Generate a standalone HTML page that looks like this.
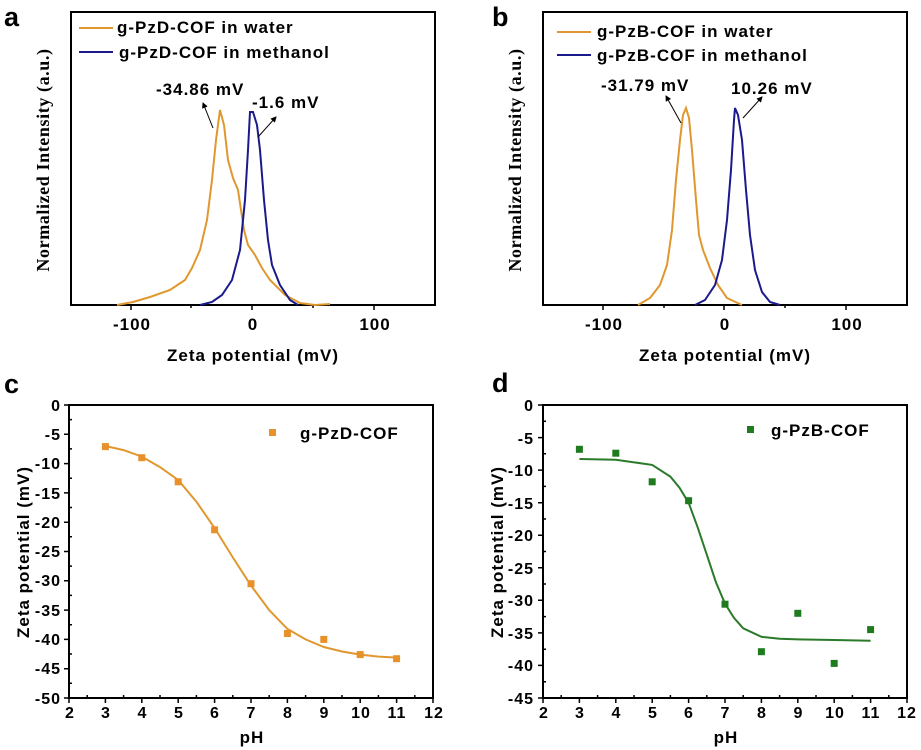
<!DOCTYPE html>
<html><head><meta charset="utf-8"><style>
html,body{margin:0;padding:0;background:#fff;}
svg{display:block;font-family:"Liberation Sans",Arial,sans-serif;font-weight:bold;}
.t{font-size:17px;letter-spacing:1px;}
.k{font-size:16px;letter-spacing:1px;}
.s{font-family:"Liberation Serif",serif;font-size:18px;font-weight:bold;letter-spacing:0.6px;}
</style></head><body>
<svg width="921" height="750" viewBox="0 0 921 750">
<defs><marker id="ar" markerWidth="6" markerHeight="6" refX="5" refY="3" orient="auto"><path d="M0,0 L6,3 L0,6 z" fill="#000"/></marker></defs>
<text x="4" y="26" font-size="27">a</text>
<text x="492" y="26" font-size="27">b</text>
<text x="4" y="393" font-size="27">c</text>
<text x="492" y="392" font-size="27">d</text>

<!-- Panel a -->
<rect x="71" y="12" width="364" height="293" fill="none" stroke="#000" stroke-width="2"/>
<g stroke="#000" stroke-width="1.5">
<line x1="131" y1="305" x2="131" y2="310"/><line x1="252" y1="305" x2="252" y2="310"/><line x1="374" y1="305" x2="374" y2="310"/>
<line x1="191" y1="305" x2="191" y2="308"/><line x1="313" y1="305" x2="313" y2="308"/>
</g>
<g class="t" text-anchor="middle"><text x="132" y="330">-100</text><text x="253" y="330">0</text><text x="375" y="330">100</text></g>
<text class="t" x="253" y="361" text-anchor="middle">Zeta potential (mV)</text>
<text class="s" transform="translate(49,160) rotate(-90)" text-anchor="middle">Normalized Intensity (a.u.)</text>
<line x1="79" y1="28" x2="113" y2="28" stroke="#E0982E" stroke-width="2"/>
<text class="t" x="117" y="33">g-PzD-COF in water</text>
<line x1="79" y1="52" x2="113" y2="52" stroke="#1A1A8C" stroke-width="2"/>
<text class="t" x="119" y="58">g-PzD-COF in methanol</text>
<polyline fill="none" stroke="#E0982E" stroke-width="2" points="117,305 133,302 150,297 170,290 185,280 192,268 200,250 207,220 212,180 216,140 220,110 224,125 228,160 233,178 238,190 241,210 244,230 248,245 255,255 262,268 270,280 285,295 300,303 315,305 330,304"/>
<polyline fill="none" stroke="#1A1A8C" stroke-width="2" points="200,305 212,302 222,295 232,280 240,250 245,200 248,150 250,112 253,112 257,125 260,150 264,200 268,240 272,265 280,285 290,300 298,305"/>
<text class="t" x="156" y="95">-34.86 mV</text>
<line x1="213" y1="128" x2="203" y2="103" stroke="#000" stroke-width="1" marker-end="url(#ar)"/>
<text class="t" x="252" y="108">-1.6 mV</text>
<line x1="258" y1="137" x2="276" y2="117" stroke="#000" stroke-width="1" marker-end="url(#ar)"/>

<!-- Panel b -->
<rect x="543" y="12" width="364" height="293" fill="none" stroke="#000" stroke-width="2"/>
<g stroke="#000" stroke-width="1.5">
<line x1="603" y1="305" x2="603" y2="310"/><line x1="724" y1="305" x2="724" y2="310"/><line x1="846" y1="305" x2="846" y2="310"/>
<line x1="664" y1="305" x2="664" y2="308"/><line x1="785" y1="305" x2="785" y2="308"/>
</g>
<g class="t" text-anchor="middle"><text x="604" y="330">-100</text><text x="725" y="330">0</text><text x="847" y="330">100</text></g>
<text class="t" x="725" y="361" text-anchor="middle">Zeta potential (mV)</text>
<text class="s" transform="translate(521,160) rotate(-90)" text-anchor="middle">Normalized Intensity (a.u.)</text>
<line x1="557" y1="32" x2="591" y2="32" stroke="#E0982E" stroke-width="2"/>
<text class="t" x="597" y="37">g-PzB-COF in water</text>
<line x1="557" y1="55" x2="591" y2="55" stroke="#1A1A8C" stroke-width="2"/>
<text class="t" x="597" y="61">g-PzB-COF in methanol</text>
<polyline fill="none" stroke="#E0982E" stroke-width="2" points="638,305 650,298 660,285 667,265 672,230 676,180 680,140 683,115 686,108 689,118 692,150 696,200 699,235 703,250 710,268 718,285 727,298 742,305"/>
<polyline fill="none" stroke="#1A1A8C" stroke-width="2" points="695,305 705,300 715,285 722,260 727,220 731,170 734,120 735,108 738,115 742,140 746,190 750,235 755,270 762,292 770,302 780,305"/>
<text class="t" x="601" y="91">-31.79 mV</text>
<line x1="681" y1="123" x2="666" y2="96" stroke="#000" stroke-width="1" marker-end="url(#ar)"/>
<text class="t" x="731" y="94">10.26 mV</text>
<line x1="743" y1="118" x2="762" y2="97" stroke="#000" stroke-width="1" marker-end="url(#ar)"/>

<!-- Panel c -->
<rect x="69" y="405" width="364" height="293" fill="none" stroke="#000" stroke-width="2"/>
<g stroke="#000" stroke-width="1.5">
<path d="M69,405h-5M69,434.3h-5M69,463.6h-5M69,492.9h-5M69,522.2h-5M69,551.5h-5M69,580.8h-5M69,610.1h-5M69,639.4h-5M69,668.7h-5M69,698h-5"/>
<path d="M69,419.6h3M69,448.9h3M69,478.2h3M69,507.5h3M69,536.8h3M69,566.1h3M69,595.4h3M69,624.7h3M69,654h3M69,683.3h3"/>
<path d="M69,698v5M105.4,698v5M141.8,698v5M178.2,698v5M214.6,698v5M251,698v5M287.4,698v5M323.8,698v5M360.2,698v5M396.6,698v5M433,698v5"/>
<path d="M87.2,698v-3M123.6,698v-3M160,698v-3M196.4,698v-3M232.8,698v-3M269.2,698v-3M305.6,698v-3M342,698v-3M378.4,698v-3M414.8,698v-3"/>
</g>
<g class="k" text-anchor="end">
<text x="61" y="411">0</text><text x="61" y="440">-5</text><text x="61" y="469">-10</text><text x="61" y="499">-15</text><text x="61" y="528">-20</text><text x="61" y="557">-25</text><text x="61" y="586">-30</text><text x="61" y="616">-35</text><text x="61" y="645">-40</text><text x="61" y="674">-45</text><text x="61" y="704">-50</text>
</g>
<g class="k" text-anchor="middle">
<text x="70" y="718">2</text><text x="106" y="718">3</text><text x="142.5" y="718">4</text><text x="179" y="718">5</text><text x="215" y="718">6</text><text x="251.5" y="718">7</text><text x="288" y="718">8</text><text x="324.5" y="718">9</text><text x="361" y="718">10</text><text x="397" y="718">11</text><text x="434" y="718">12</text>
</g>
<text class="t" x="252" y="743" text-anchor="middle">pH</text>
<text class="t" transform="translate(29,552) rotate(-90)" text-anchor="middle">Zeta potential (mV)</text>
<rect x="269" y="429" width="7" height="7" fill="#E8902A"/>
<text class="t" x="300" y="439">g-PzD-COF</text>
<polyline fill="none" stroke="#E0982E" stroke-width="2" points="105.4,446 123.6,450.1 141.8,456.6 160,467.1 178.2,480 196.4,501.7 214.6,528 232.8,557.4 251,585.5 269.2,610.1 287.4,628.9 305.6,639.4 323.8,647 342,651.5 360.2,654.6 378.4,656.6 396.6,657.6"/>
<g fill="#E8902A">
<rect x="101.9" y="443.1" width="7" height="7"/><rect x="138.3" y="454.2" width="7" height="7"/><rect x="174.7" y="478.3" width="7" height="7"/><rect x="211.1" y="526.3" width="7" height="7"/><rect x="247.5" y="580.2" width="7" height="7"/><rect x="283.9" y="630" width="7" height="7"/><rect x="320.3" y="635.9" width="7" height="7"/><rect x="356.7" y="651.1" width="7" height="7"/><rect x="393.1" y="655.2" width="7" height="7"/>
</g>

<!-- Panel d -->
<rect x="543" y="405" width="364" height="293" fill="none" stroke="#000" stroke-width="2"/>
<g stroke="#000" stroke-width="1.5">
<path d="M543,405h-5M543,437.6h-5M543,470.1h-5M543,502.7h-5M543,535.2h-5M543,567.8h-5M543,600.3h-5M543,632.9h-5M543,665.4h-5M543,698h-5"/>
<path d="M543,421.3h3M543,453.8h3M543,486.4h3M543,519h3M543,551.5h3M543,584h3M543,616.6h3M543,649.2h3M543,681.7h3"/>
<path d="M543,698v5M579.4,698v5M615.8,698v5M652.2,698v5M688.6,698v5M725,698v5M761.4,698v5M797.8,698v5M834.2,698v5M870.6,698v5M907,698v5"/>
<path d="M561.2,698v-3M597.6,698v-3M634,698v-3M670.4,698v-3M706.8,698v-3M743.2,698v-3M779.6,698v-3M816,698v-3M852.4,698v-3M888.8,698v-3"/>
</g>
<g class="k" text-anchor="end">
<text x="534" y="411">0</text><text x="534" y="444">-5</text><text x="534" y="476">-10</text><text x="534" y="509">-15</text><text x="534" y="541">-20</text><text x="534" y="574">-25</text><text x="534" y="606">-30</text><text x="534" y="639">-35</text><text x="534" y="671">-40</text><text x="534" y="704">-45</text>
</g>
<g class="k" text-anchor="middle">
<text x="544" y="718">2</text><text x="580" y="718">3</text><text x="616.5" y="718">4</text><text x="653" y="718">5</text><text x="689" y="718">6</text><text x="725.5" y="718">7</text><text x="762" y="718">8</text><text x="798.5" y="718">9</text><text x="835" y="718">10</text><text x="871" y="718">11</text><text x="907" y="718">12</text>
</g>
<text class="t" x="726" y="743" text-anchor="middle">pH</text>
<text class="t" transform="translate(503,552) rotate(-90)" text-anchor="middle">Zeta potential (mV)</text>
<rect x="747" y="426" width="7" height="7" fill="#1E7B1E"/>
<text class="t" x="771" y="436">g-PzB-COF</text>
<polyline fill="none" stroke="#2A7A2A" stroke-width="2" points="579.4,459 615.8,459.7 652.2,464.9 670.4,476.6 679.5,487.7 688.6,502.7 697.7,527.4 706.8,554.7 715.9,582.1 725,603.6 734.1,618 743.2,628.3 761.4,636.8 779.6,638.8 797.8,639.4 834.2,640 870.6,640.7"/>
<g fill="#1E7B1E">
<rect x="575.9" y="445.8" width="7" height="7"/><rect x="612.3" y="449.7" width="7" height="7"/><rect x="648.7" y="478.3" width="7" height="7"/><rect x="685.1" y="497.2" width="7" height="7"/><rect x="721.5" y="600.7" width="7" height="7"/><rect x="757.9" y="648.2" width="7" height="7"/><rect x="794.3" y="609.8" width="7" height="7"/><rect x="830.7" y="659.9" width="7" height="7"/><rect x="867.1" y="626.1" width="7" height="7"/>
</g>
</svg>
</body></html>
